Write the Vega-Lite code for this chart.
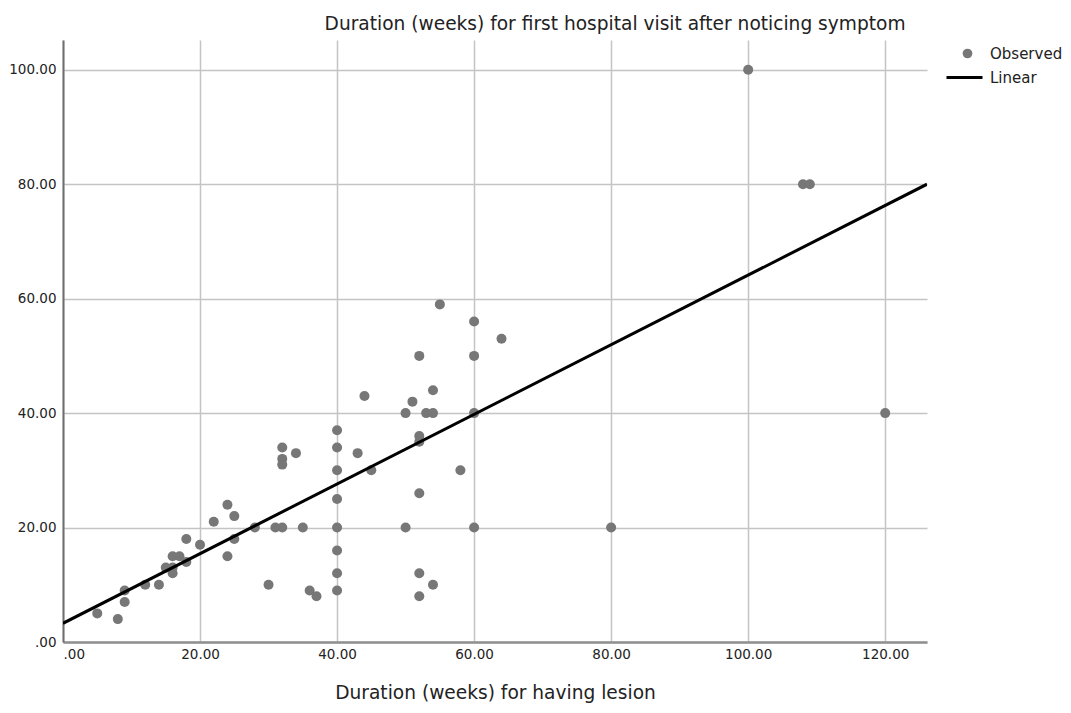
{
  "$schema": "https://vega.github.io/schema/vega-lite/v6.json",
  "autosize": {"type": "none"},
  "width": 864,
  "height": 602,
  "padding": {"left": 63, "top": 40, "right": 144, "bottom": 71},
  "background": "white",
  "config": {
    "font": "DejaVu Sans",
    "view": {"stroke": null},
    "axis": {"labelFont": "DejaVu Sans", "titleFont": "DejaVu Sans", "labelColor": "#222", "titleColor": "#222", "titleFontWeight": "normal"},
    "legend": {"labelFont": "DejaVu Sans", "labelColor": "#222", "padding": 0}
  },
  "datasets": {
    "obs": [
      {"x": 5, "y": 5}, {"x": 8, "y": 4}, {"x": 9, "y": 9}, {"x": 9, "y": 7},
      {"x": 12, "y": 10}, {"x": 14, "y": 10}, {"x": 15, "y": 13}, {"x": 16, "y": 15},
      {"x": 16, "y": 12}, {"x": 16, "y": 13}, {"x": 17, "y": 15}, {"x": 18, "y": 18},
      {"x": 18, "y": 14}, {"x": 20, "y": 17}, {"x": 22, "y": 21}, {"x": 24, "y": 24},
      {"x": 25, "y": 22}, {"x": 24, "y": 15}, {"x": 25, "y": 18}, {"x": 28, "y": 20},
      {"x": 30, "y": 10}, {"x": 31, "y": 20}, {"x": 32, "y": 20}, {"x": 35, "y": 20},
      {"x": 36, "y": 9}, {"x": 37, "y": 8}, {"x": 32, "y": 34}, {"x": 32, "y": 32},
      {"x": 32, "y": 31}, {"x": 34, "y": 33}, {"x": 40, "y": 37}, {"x": 40, "y": 34},
      {"x": 40, "y": 30}, {"x": 40, "y": 25}, {"x": 40, "y": 20}, {"x": 40, "y": 16},
      {"x": 40, "y": 12}, {"x": 40, "y": 9}, {"x": 43, "y": 33}, {"x": 44, "y": 43},
      {"x": 45, "y": 30}, {"x": 50, "y": 40}, {"x": 50, "y": 20}, {"x": 51, "y": 42},
      {"x": 52, "y": 50}, {"x": 52, "y": 36}, {"x": 52, "y": 35}, {"x": 52, "y": 26},
      {"x": 52, "y": 12}, {"x": 52, "y": 8}, {"x": 53, "y": 40}, {"x": 54, "y": 40},
      {"x": 54, "y": 44}, {"x": 54, "y": 10}, {"x": 55, "y": 59}, {"x": 58, "y": 30},
      {"x": 60, "y": 56}, {"x": 60, "y": 50}, {"x": 60, "y": 40}, {"x": 60, "y": 20},
      {"x": 64, "y": 53}, {"x": 80, "y": 20}, {"x": 100, "y": 100}, {"x": 108, "y": 80},
      {"x": 109, "y": 80}, {"x": 120, "y": 40}
    ],
    "fit": [
      {"x": 0, "y": 3.27},
      {"x": 126.1, "y": 80}
    ]
  },
  "layer": [
    {
      "data": {"name": "obs"},
      "mark": {"type": "point", "filled": true, "opacity": 1, "size": 100},
      "encoding": {
        "x": {
          "field": "x", "type": "quantitative",
          "scale": {"domain": [0, 126.1], "nice": false, "zero": false},
          "axis": {
            "title": "Duration (weeks) for having lesion",
            "titleFontSize": 18.6, "titlePadding": 23,
            "values": [0, 20, 40, 60, 80, 100, 120],
            "labelExpr": "datum.value == 0 ? '.00' : format(datum.value, '.2f')",
            "labelFontSize": 13.5, "labelPadding": 5,
            "ticks": false,
            "grid": true, "gridColor": "#c4c4c4", "gridWidth": 1.5,
            "domainColor": "#8f8f8f", "domainWidth": 2.5
          }
        },
        "y": {
          "field": "y", "type": "quantitative",
          "scale": {"domain": [0, 105.2], "nice": false, "zero": false},
          "axis": {
            "title": "Duration (weeks) for first hospital visit after noticing symptom",
            "titleFontSize": 18.6, "titleAngle": 0, "titleAlign": "right", "titleBaseline": "middle",
            "titleX": 842, "titleY": -17,
            "values": [0, 20, 40, 60, 80, 100],
            "labelExpr": "datum.value == 0 ? '.00' : format(datum.value, '.2f')",
            "labelFontSize": 13.5, "labelPadding": 7,
            "ticks": false,
            "grid": true, "gridColor": "#c4c4c4", "gridWidth": 1.5,
            "domainColor": "#6e6e6e", "domainWidth": 2
          }
        },
        "color": {
          "datum": "Observed", "type": "nominal",
          "scale": {"domain": ["Observed"], "range": ["#777777"]},
          "legend": {
            "title": null,
            "orient": "none",
            "legendX": 897,
            "legendY": 6,
            "symbolSize": 95,
            "symbolType": "circle",
            "labelFontSize": 15,
            "labelOffset": 15
          }
        }
      }
    },
    {
      "data": {"name": "fit"},
      "mark": {"type": "line", "strokeWidth": 3, "clip": true},
      "encoding": {
        "x": {"field": "x", "type": "quantitative"},
        "y": {"field": "y", "type": "quantitative"},
        "stroke": {
          "datum": "Linear", "type": "nominal",
          "scale": {"domain": ["Linear"], "range": ["#000000"]},
          "legend": {
            "title": null,
            "orient": "none",
            "legendX": 882,
            "legendY": 18,
            "symbolType": "stroke",
            "symbolSize": 1296,
            "symbolStrokeWidth": 3,
            "labelFontSize": 15,
            "labelOffset": 6
          }
        }
      }
    }
  ],
  "resolve": {"scale": {"color": "independent", "stroke": "independent"}, "legend": {"color": "independent", "stroke": "independent"}}
}
